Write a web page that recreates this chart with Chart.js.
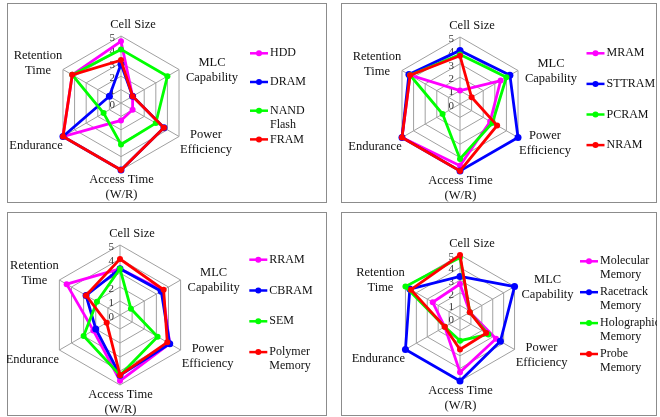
<!DOCTYPE html>
<html><head><meta charset="utf-8">
<script src="https://cdn.jsdelivr.net/npm/chart.js@4.4.1/dist/chart.umd.min.js"></script>
<style>
html,body{margin:0;padding:0;background:#fff;}
body{width:660px;height:417px;position:relative;overflow:hidden;}
.box{position:absolute;border:1px solid #8c8c8c;box-sizing:border-box;}
.wrap{position:absolute;}
canvas{display:block;}
</style></head><body>
<div class="box" style="left:7px;top:3px;width:320px;height:200px"></div>
<div class="box" style="left:341px;top:3px;width:316px;height:200px"></div>
<div class="box" style="left:7px;top:212px;width:320px;height:204px"></div>
<div class="box" style="left:341px;top:212px;width:316px;height:204px"></div>
<div class="wrap" style="left:7px;top:3px;width:320px;height:200px"><canvas id="c1" width="320" height="200"></canvas></div>
<div class="wrap" style="left:341px;top:3px;width:316px;height:200px"><canvas id="c2" width="316" height="200"></canvas></div>
<div class="wrap" style="left:7px;top:212px;width:320px;height:204px"><canvas id="c3" width="320" height="204"></canvas></div>
<div class="wrap" style="left:341px;top:212px;width:316px;height:204px"><canvas id="c4" width="316" height="204"></canvas></div>
<script>
// ---- shared ----
const axisLabels = [['Cell Size'], ['MLC', 'Capability'], ['Power', 'Efficiency'], ['Access Time', '(W/R)'], ['Endurance'], ['Retention', 'Time']];
const tickLabels = ['0', '1', '2', '3', '4', '5'];
const seriesColors = ['#FF00FF', '#0000FF', '#00FF00', '#FF0000'];

// ---- panel 1 ----
const p1Names = [['HDD'], ['DRAM'], ['NAND', 'Flash'], ['FRAM']];
const hdd  = [4.6, 1, 1, 1.3, 5, 4.2];
const dram = [2.9, 1, 3.7, 5, 5, 1];
const nand = [4, 4, 3, 3.1, 1.5, 4.2];
const fram = [3.2, 1, 3.7, 5, 5, 4.2];

// ---- panel 2 ----
const p2Names = [['MRAM'], ['STTRAM'], ['PCRAM'], ['NRAM']];
const mram   = [1, 3.5, 2.6, 4.6, 5, 4.3];
const sttram = [4, 4.3, 5, 5, 5, 4.4];
const pcram  = [3.7, 4, 2.8, 4.1, 1.5, 4.3];
const nram   = [3.6, 1, 3.2, 5, 5, 4.3];

// ---- panel 3 ----
const p3Names = [['RRAM'], ['CBRAM'], ['SEM'], ['Polymer', 'Memory']];
const rram    = [3.3, 3.5, 4.1, 4.7, 2.2, 4.4];
const cbram   = [3.3, 3.4, 4.1, 4.3, 2.0, 2.8];
const sem     = [3.3, 0.9, 3.1, 4.3, 3.0, 1.9];
const polymer = [4, 3.6, 3.9, 4.3, 1.1, 2.8];

// ---- panel 4 ----
const p4Names = [['Molecular', 'Memory'], ['Racetrack', 'Memory'], ['Holographic', 'Memory'], ['Probe', 'Memory']];
const molecular   = [2.7, 0.9, 3.3, 4.3, 1.4, 2.5];
const racetrack   = [3.3, 5, 3.7, 5, 5, 4.6];
const holographic = [4.8, 0.9, 2.6, 1.8, 1.4, 5];
const probe       = [5, 0.9, 2.4, 2.5, 1.4, 4.5];

const serifFont = 'Liberation Serif, "Times New Roman", serif';
const labelExtra = [[12, -11], [33, 0.5], [27, 6], [0.5, 17.5], [-27, 9.5], [-25, -6.5]];

const decor = {
  id: 'decor',
  beforeDatasetsDraw(chart) {
    const s = chart.scales.r, ctx = chart.ctx;
    ctx.save();
    ctx.font = '11px ' + serifFont;
    ctx.fillStyle = '#333';
    ctx.textAlign = 'right';
    ctx.textBaseline = 'middle';
    tickLabels.forEach((t) => {
      const p = s.getPointPositionForValue(0, Number(t));
      ctx.fillText(t, p.x - 6, p.y + 2);
    });
    ctx.restore();
  },
  afterDraw(chart, args, opts) {
    const s = chart.scales.r, ctx = chart.ctx;
    ctx.save();
    ctx.font = '12.5px ' + serifFont;
    ctx.fillStyle = '#111';
    ctx.textAlign = 'center';
    ctx.textBaseline = 'middle';
    chart.data.labels.forEach((lines, i) => {
      const p = s.getPointPosition(i, s.drawingArea);
      const cx = p.x + labelExtra[i][0], cy = p.y + labelExtra[i][1];
      const lh = 15;
      lines.forEach((ln, k) => ctx.fillText(ln, cx, cy - (lines.length - 1) * lh / 2 + k * lh));
    });
    // legend
    ctx.font = '12px ' + serifFont;
    ctx.textAlign = 'left';
    chart.data.datasets.forEach((ds, i) => {
      const y = opts.y0 + i * opts.dy, x = opts.x;
      ctx.strokeStyle = ds.borderColor;
      ctx.lineWidth = 2.5;
      ctx.beginPath(); ctx.moveTo(x, y); ctx.lineTo(x + 18, y); ctx.stroke();
      ctx.fillStyle = ds.borderColor;
      ctx.beginPath(); ctx.arc(x + 9, y, 3, 0, Math.PI * 2); ctx.fill();
      ctx.fillStyle = '#111';
      ds.legendLines.forEach((ln, k) => ctx.fillText(ln, x + 20, y + k * 14));
    });
    ctx.restore();
  }
};

function makePanel(id, names, series, pad, legend) {
  new Chart(document.getElementById(id), {
    type: 'radar',
    data: {
      labels: axisLabels,
      datasets: series.map((vals, i) => ({
        label: names[i].join(' '),
        legendLines: names[i],
        data: vals,
        borderColor: seriesColors[i],
        backgroundColor: seriesColors[i],
        pointBackgroundColor: seriesColors[i],
        pointBorderColor: seriesColors[i],
        pointRadius: i === 1 ? 3.5 : 3,
        pointBorderWidth: 0,
        borderWidth: 2.8,
        fill: false,
        tension: 0,
        order: series.length - i
      }))
    },
    options: {
      responsive: false,
      animation: false,
      layout: { padding: pad },
      plugins: { legend: { display: false }, tooltip: { enabled: false }, decor: legend },
      scales: {
        r: {
          min: 0, max: 5,
          ticks: { stepSize: 1, display: false },
          pointLabels: { display: false },
          grid: { color: '#a0a0a0', lineWidth: 1 },
          angleLines: { color: '#a0a0a0', lineWidth: 1 }
        }
      }
    },
    plugins: [decor]
  });
}

makePanel('c1', p1Names, [hdd, dram, nand, fram], { left: 47, right: 139, top: 33, bottom: 33 }, { x: 243, y0: 50.3, dy: 28.7 });
makePanel('c2', p2Names, [mram, sttram, pcram, nram], { left: 52, right: 130, top: 34, bottom: 32 }, { x: 245.5, y0: 50.3, dy: 30.6 });
makePanel('c3', p3Names, [rram, cbram, sem, polymer], { left: 43, right: 137, top: 33, bottom: 31 }, { x: 242.3, y0: 47.7, dy: 30.8 });
makePanel('c4', p4Names, [molecular, racetrack, holographic, probe], { left: 56, right: 134, top: 43, bottom: 35 }, { x: 239, y0: 49.3, dy: 30.9 });
</script>
</body></html>
